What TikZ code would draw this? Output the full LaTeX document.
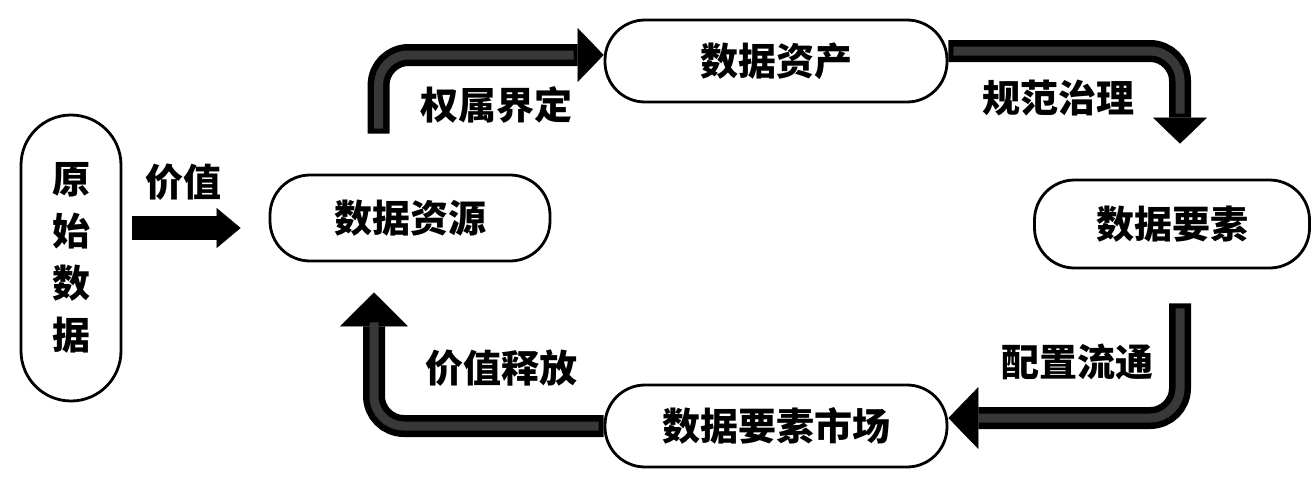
\documentclass[tikz,border=0pt]{standalone}
\usepackage{fontspec}
\newfontfamily\cjk{Noto Sans CJK SC}
\usetikzlibrary{arrows.meta, positioning}

\begin{document}
\begin{tikzpicture}[x=1pt, y=-1pt,
    box/.style={draw, line width=2.8pt, inner sep=0pt, rounded corners=40pt,
      minimum width=280pt, minimum height=86pt,
      font=\cjk\bfseries\fontsize{38}{52}\selectfont},
    lbl/.style={font=\cjk\bfseries\fontsize{38}{52}\selectfont},
    flow/.style={line width=22pt, rounded corners=30pt,
      -{Triangle[length=26pt, width=54pt, line width=0.5pt]},
      postaction={draw=black!78, line width=9pt, -, shorten >=30pt, shorten <=5pt}},
    valarrow/.style={line width=24pt, -{Triangle[length=24pt, width=40pt, line width=0.5pt]}}]
  \useasboundingbox (0,0) rectangle (1313,480);

  % the stages
  \node[box, minimum width=100pt, minimum height=286pt, rounded corners=50pt, align=center] (raw) at (71,258) {原\\始\\数\\据};
  \node[box] (res) at (410,218) {数据资源};
  \node[box, minimum width=342pt, minimum height=82pt] (asset) at (776,61) {数据资产};
  \node[box, minimum width=275pt, minimum height=88pt] (elem) at (1172,224) {数据要素};
  \node[box, minimum width=342pt, minimum height=82pt] (market) at (776,426) {数据要素市场};

  % the cycle of arrows
  \draw[valarrow] ([xshift=10pt, yshift=30pt]raw.east) -- ([xshift=-28pt, yshift=-10pt]res.west);
  \draw[flow] ([xshift=110pt, yshift=40pt]res.north west) |- ([yshift=6pt]asset.west);
  \draw[flow] ([yshift=10pt]asset.east) -| ([xshift=8pt, yshift=35pt]elem.north);
  \draw[flow, -{Triangle[length=30pt, width=62pt, line width=0.5pt]}] ([xshift=8pt, yshift=-34pt]elem.south) |- ([yshift=8pt]market.east);
  \draw[flow, -{Triangle[length=34pt, width=68pt, line width=0.5pt]}] (market.west) -| ([xshift=-36pt, yshift=-30pt]res.south);

  % labels
  \node[lbl] (val) at (183,182) {价值};
  \node[lbl] (own) at (496,105) {权属界定};
  \node[lbl] (gov) at (1058,98) {规范治理};
  \node[lbl] (circ) at (1077,362) {配置流通};
  \node[lbl] (rel) at (501,368) {价值释放};
\end{tikzpicture}
\end{document}
